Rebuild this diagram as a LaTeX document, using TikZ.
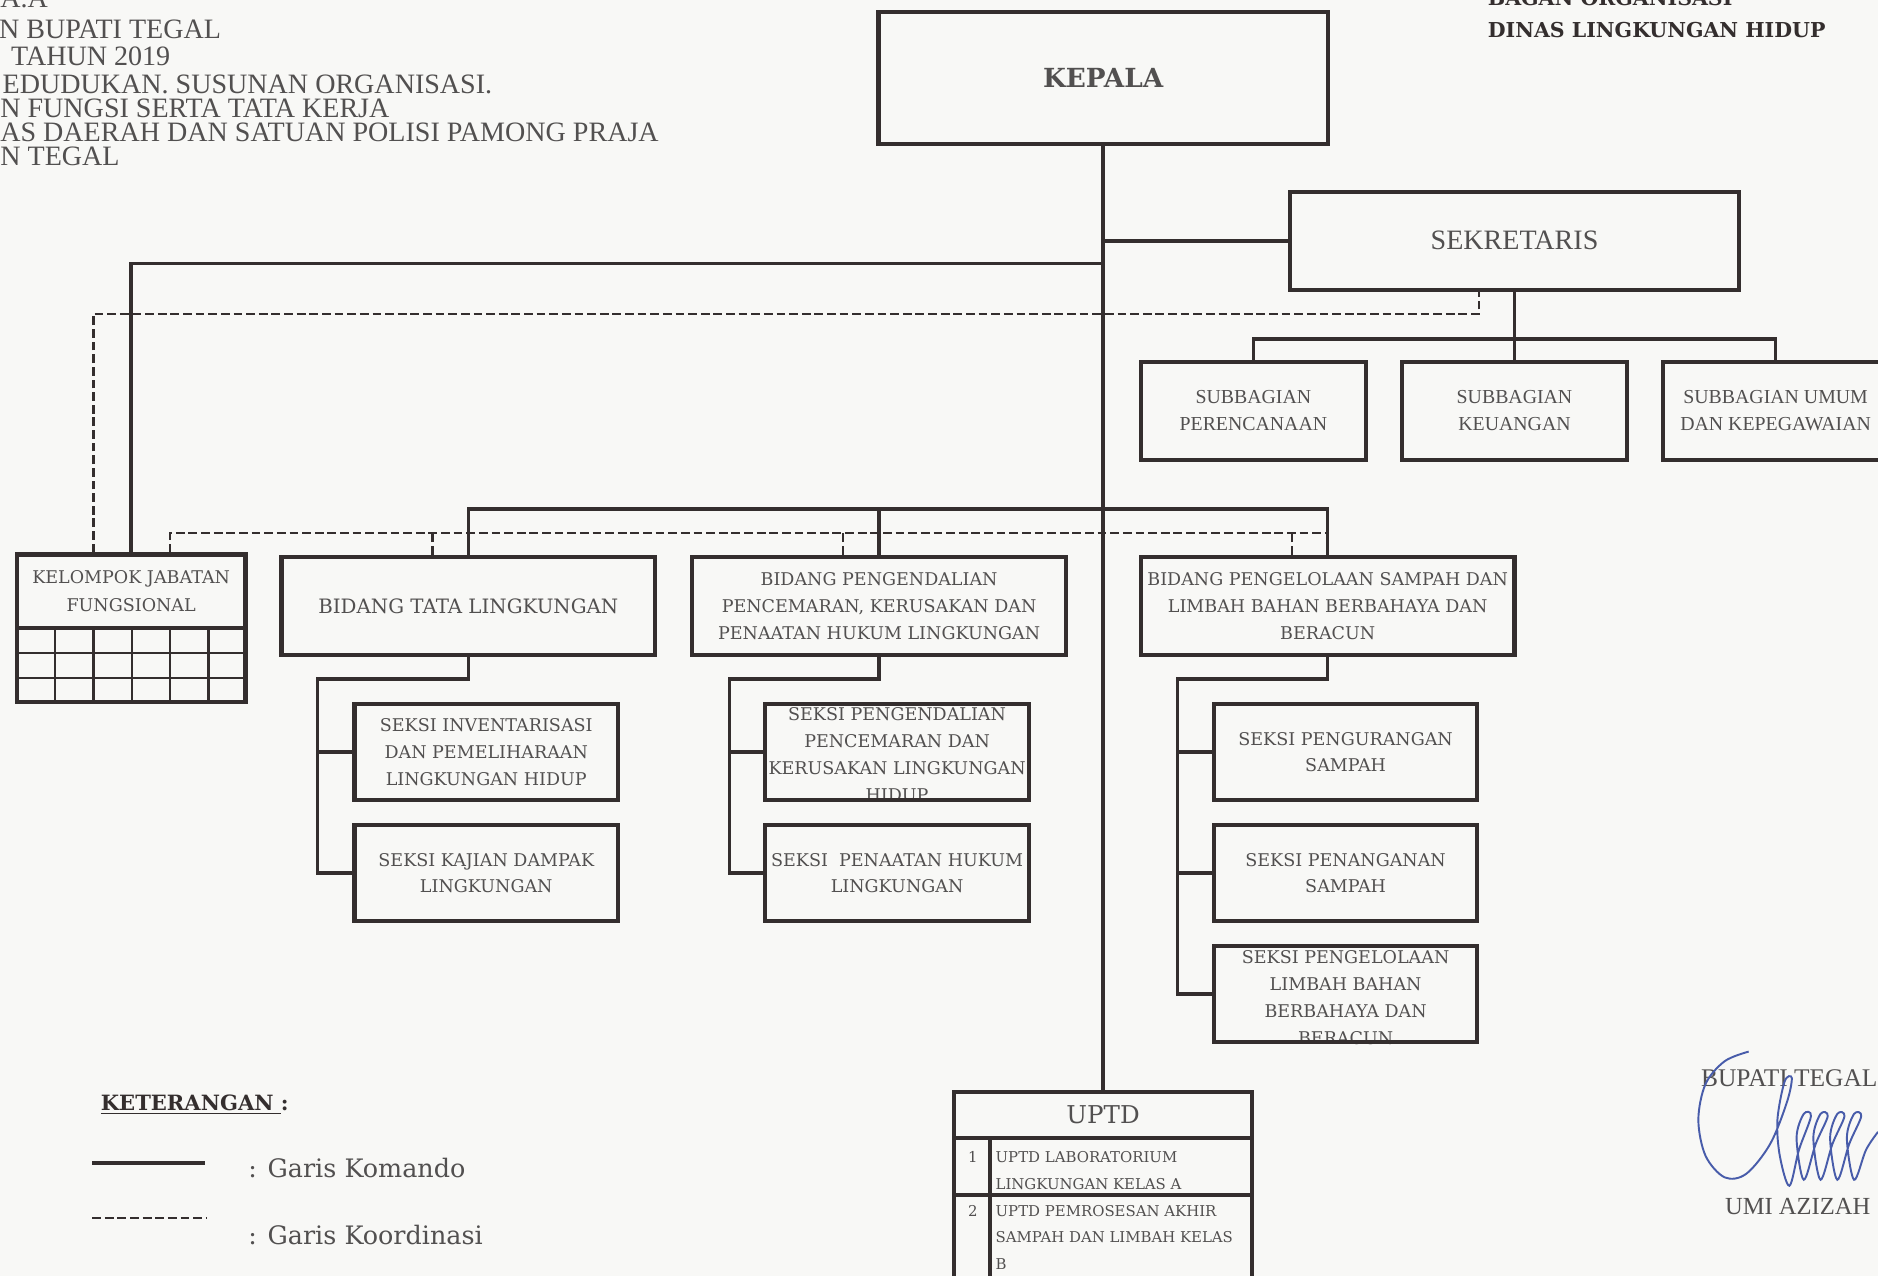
\documentclass[tikz,border=0pt]{standalone}
\usepackage{fontspec}
\setmainfont{DejaVu Serif}
\newfontfamily\timesfont{Liberation Serif}
\definecolor{garis}{RGB}{52,46,46}
\definecolor{teks}{RGB}{82,80,80}
\definecolor{latar}{RGB}{248,248,246}
\definecolor{tinta}{RGB}{72,92,170}

\begin{document}
\begin{tikzpicture}[x=0.024cm, y=-0.024cm, node distance=2.424cm,
    box/.style={draw=garis, line width=2.4pt, inner sep=0pt, align=center, text=teks},
    kepalabox/.style={box, minimum width=9cm, minimum height=2.64cm, font=\bfseries\fontsize{15}{18}\selectfont},
    sekbox/.style={box, minimum width=9cm, minimum height=1.968cm, font=\timesfont\fontsize{16}{19}\selectfont},
    subbox/.style={box, minimum width=4.512cm, minimum height=1.968cm, font=\timesfont\fontsize{11.3}{15.5}\selectfont},
    jfbox/.style={box, minimum width=4.584cm, minimum height=1.464cm, font=\fontsize{10}{15.5}\selectfont},
    bidbox/.style={box, minimum width=7.488cm, minimum height=1.968cm, font=\fontsize{10}{15.3}\selectfont},
    seksibox/.style={box, minimum width=5.28cm, minimum height=1.92cm, font=\fontsize{10}{15.3}\selectfont},
    seksitext/.style={align=center, inner sep=0pt, text=teks, font=\fontsize{10}{15.5}\selectfont},
    uptdbox/.style={box, outer sep=0pt, minimum width=5.976cm, minimum height=0.912cm, font=\fontsize{14}{17}\selectfont},
    uptdrow/.style={box, outer sep=0pt, minimum width=5.976cm},
    uptdtext/.style={anchor=north west, align=left, inner sep=0pt, text=teks, font=\fontsize{8.5}{15.2}\selectfont},
    kop/.style={anchor=base west, inner sep=0pt, text=teks, font=\timesfont\fontsize{16}{18}\selectfont},
    judul/.style={anchor=base west, inner sep=0pt, text=garis, font=\bfseries\fontsize{11.7}{14}\selectfont},
    ket/.style={anchor=base west, inner sep=0pt, text=teks, font=\fontsize{14.5}{17}\selectfont},
    komando/.style={draw=garis, line width=2pt},
    koordinasi/.style={draw=garis, line width=1.3pt, dash pattern=on 5pt off 2.2pt},
    kisi/.style={draw=garis, line width=1.4pt},
    ttd/.style={draw=tinta, line width=1.1pt}]

    \useasboundingbox (0,0) rectangle (1568,1065);
    \fill[latar] (0,0) rectangle (1568,1065);
    \clip (0,0) rectangle (1568,1065);

    \node (kop0) [kop] at (0,6) {A.A};
    \node (kop1) [kop] at (-1,32) {N BUPATI TEGAL};
    \node (kop2) [kop] at (9,55) {TAHUN 2019};
    \node (kop3) [kop] at (2,78) {EDUDUKAN. SUSUNAN ORGANISASI.};
    \node (kop4) [kop] at (0,98) {N FUNGSI SERTA TATA KERJA};
    \node (kop5) [kop] at (0,118) {AS DAERAH DAN SATUAN POLISI PAMONG PRAJA};
    \node (kop6) [kop] at (0,138) {N TEGAL};

    \node (judul1) [judul] at (1242,5) {BAGAN ORGANISASI};
    \node (judul2) [judul] at (1242,31) {DINAS LINGKUNGAN HIDUP};

    \node (kepala) [kepalabox] at (921,65) {KEPALA};
    \node (sekretaris) [sekbox] at (1264.5,201) {SEKRETARIS};
    \node (sub1) [subbox] at (1046.5,343) {SUBBAGIAN\\PERENCANAAN};
    \node (sub2) [subbox] at (1264.5,343) {SUBBAGIAN\\KEUANGAN};
    \node (sub3) [subbox] at (1482.5,343) {SUBBAGIAN UMUM\\DAN KEPEGAWAIAN};

    \node (kjf) [jfbox] at (109.5,493.5) {KELOMPOK JABATAN\\FUNGSIONAL};
    \node (bid1) [bidbox, font=\fontsize{11.3}{15}\selectfont] at (391,506) {BIDANG TATA LINGKUNGAN};
    \node (bid2) [bidbox] at (734,506) {BIDANG PENGENDALIAN\\PENCEMARAN, KERUSAKAN DAN\\PENAATAN HUKUM LINGKUNGAN};
    \node (bid3) [bidbox] at (1108.5,506) {BIDANG PENGELOLAAN SAMPAH DAN\\LIMBAH BAHAN BERBAHAYA DAN\\BERACUN};

    \draw[box] (14,524) rectangle (205,586);
    \draw[kisi] (46,524) -- (46,586) (78,524) -- (78,586) (110,524) -- (110,586)
        (142,524) -- (142,586) (174,524) -- (174,586) (14,545) -- (205,545) (14,566) -- (205,566);

    \node (seksi11) [seksibox] at (406,628) {SEKSI INVENTARISASI\\DAN PEMELIHARAAN\\LINGKUNGAN HIDUP};
    \node (seksi12) [seksibox, below of=seksi11] {SEKSI KAJIAN DAMPAK\\LINGKUNGAN};

    \node (teks21) [seksitext] at (749,630) {SEKSI PENGENDALIAN\\PENCEMARAN DAN\\KERUSAKAN LINGKUNGAN\\HIDUP};
    \node (seksi21) [seksibox] at (749,628) {};
    \node (seksi22) [seksibox, below of=seksi21] {SEKSI\ \ PENAATAN HUKUM\\LINGKUNGAN};

    \node (seksi31) [seksibox] at (1123.5,628) {SEKSI PENGURANGAN\\SAMPAH};
    \node (seksi32) [seksibox, below of=seksi31] {SEKSI PENANGANAN\\SAMPAH};
    \node (teks33) [seksitext] at (1123.5,833) {SEKSI PENGELOLAAN\\LIMBAH BAHAN\\BERBAHAYA DAN\\BERACUN};
    \node (seksi33) [seksibox, below of=seksi32] {};

    \node (uptd) [uptdbox] at (921,931) {UPTD};
    \node (uptd1) [uptdrow, minimum height=1.152cm, anchor=north] at (uptd.south) {};
    \node (uptd2) [uptdrow, minimum height=1.968cm, anchor=north] at (uptd1.south) {};
    \draw[komando] ([xshift=0.72cm]uptd1.north west) -- ([xshift=0.72cm]uptd2.south west);
    \node (no1) [uptdtext] at (808,961) {1};
    \node (no2) [uptdtext] at (808,1006) {2};
    \node (uptdA) [uptdtext] at (831,961) {UPTD LABORATORIUM\\LINGKUNGAN KELAS A};
    \node (uptdB) [uptdtext] at (831,1006) {UPTD PEMROSESAN AKHIR\\SAMPAH DAN LIMBAH KELAS\\B};

    \coordinate (jfbar) at (921,220);
    \coordinate (subbar) at (1264.5,283);
    \coordinate (bidbar) at (921,425);
    \coordinate (bus1) at (265,567);
    \coordinate (bus2) at (609,567);
    \coordinate (bus3) at (983,567);
    \coordinate (koordatas) at (1235,262);
    \coordinate (koordbawah) at (1108.5,445);

    \draw[komando] (kepala.south) -- (uptd.north);
    \draw[komando] (kepala.south |- sekretaris.west) -- (sekretaris.west);
    \draw[komando] (jfbar) -| (kjf.north);
    \draw[komando] (sekretaris.south) -- (sub2.north);
    \draw[komando] (sub1.north) |- (subbar) -| (sub3.north);
    \draw[komando] (bid1.north) |- (bidbar) -| (bid3.north);
    \draw[komando] (bid2.north) -- (bid2.north |- bidbar);

    \draw[komando] (bid1.south) |- (bus1) |- (seksi11.west);
    \draw[komando] (bus1) |- (seksi12.west);
    \draw[komando] (bid2.south) |- (bus2) |- (seksi21.west);
    \draw[komando] (bus2) |- (seksi22.west);
    \draw[komando] (bid3.south) |- (bus3) |- (seksi31.west);
    \draw[komando] (bus3) |- (seksi32.west);
    \draw[komando] (bus3) |- (seksi33.west);

    \draw[koordinasi] ([xshift=-0.756cm]kjf.north) |- (koordatas) -- (koordatas |- sekretaris.south);
    \draw[koordinasi] ([xshift=0.78cm]kjf.north) |- (koordbawah);
    \draw[koordinasi] ([xshift=-0.72cm]bid1.north) -- ++(0,-20);
    \draw[koordinasi] ([xshift=-0.72cm]bid2.north) -- ++(0,-20);
    \draw[koordinasi] ([xshift=-0.72cm]bid3.north) -- ++(0,-20);

    \node (keterangan) [ket, font=\bfseries\fontsize{12}{14}\selectfont, text=garis] at (84,927) {\underline{KETERANGAN\ }:};
    \draw[komando, line width=2.2pt] (77,971) -- (171,971);
    \node (ketkomando) [ket] at (207,983) {: Garis Komando};
    \draw[koordinasi, line width=1.1pt] (77,1017) -- (172,1017);
    \node (ketkoord) [ket] at (207,1039) {: Garis Koordinasi};

    \node (bupati) [kop, font=\timesfont\fontsize{14.5}{17}\selectfont] at (1420,907) {BUPATI TEGAL};
    \node (nama) [kop, font=\timesfont\fontsize{14}{17}\selectfont] at (1440,1014) {UMI AZIZAH};
    \draw[ttd] plot[smooth, tension=0.55] coordinates {(1460,878) (1440,886) (1424,905) (1418,935)
        (1424,965) (1440,983) (1458,980) (1478,955) (1492,920) (1496,900) (1490,903) (1484,935)
        (1486,965) (1494,990) (1502,960) (1512,932) (1506,930) (1500,950) (1506,985) (1516,955)
        (1526,932) (1520,930) (1514,950) (1520,985) (1530,955) (1540,932) (1534,930) (1528,950)
        (1534,985) (1544,955) (1554,932) (1548,930) (1542,950) (1548,985) (1558,960) (1568,945)};
\end{tikzpicture}
\end{document}
